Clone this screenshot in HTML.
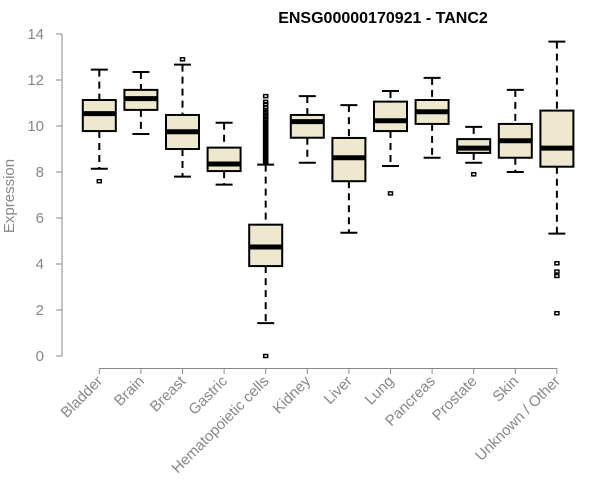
<!DOCTYPE html>
<html><head><meta charset="utf-8"><style>
body{margin:0;background:#fff;}
svg{display:block;font-family:"Liberation Sans",Arial,sans-serif;}
</style></head><body>
<svg id="chart" width="600" height="500" viewBox="0 0 600 500">
<text x="383" y="23" text-anchor="middle" font-weight="bold" font-size="16">ENSG00000170921 - TANC2</text>
<text transform="translate(14,196) rotate(-90)" text-anchor="middle" font-size="15" fill="#888">Expression</text>
<g id="yaxis"></g>
<g id="xaxis"></g>
<g id="boxes"></g>
</svg>
<script>
const categories=["Bladder","Brain","Breast","Gastric","Hematopoietic cells","Kidney","Liver","Lung","Pancreas","Prostate","Skin","Unknown / Other"];
const whiskerLow=[8.14,9.65,7.8,7.45,1.43,8.4,5.36,8.26,8.62,8.4,8.0,5.32];
const q1=[9.78,10.70,9.0,8.04,3.91,9.49,7.6,9.78,10.09,8.83,8.62,8.23];
const medians=[10.54,11.19,9.75,8.35,4.74,10.19,8.62,10.23,10.62,9.04,9.36,9.04];
const q3=[11.13,11.57,10.48,9.06,5.71,10.48,9.48,11.06,11.13,9.43,10.09,10.67];
const whiskerHigh=[12.45,12.35,12.67,10.14,8.32,11.3,10.91,11.52,12.09,9.96,11.57,13.67];
const outliers=[[7.6],[],[12.9],[],[0.0,8.4,8.45,8.5,8.55,8.6,8.65,8.7,8.75,8.8,8.85,8.9,8.95,9.0,9.05,9.1,9.15,9.2,9.25,9.3,9.35,9.4,9.45,9.5,9.55,9.6,9.65,9.7,9.75,9.8,9.85,9.9,9.95,10.0,10.05,10.1,10.15,10.2,10.3,10.4,10.5,10.6,10.7,10.8,10.95,11.05,11.3],[],[],[7.07],[],[7.9],[],[4.03,3.67,3.48,1.86]];
const yTicks=[0,2,4,6,8,10,12,14];
const NS="http://www.w3.org/2000/svg";
const y=v=>356-23*v;
const x=i=>99.3+41.6*i;
function mk(tag,attrs,parent){const e=document.createElementNS(NS,tag);for(const k in attrs)e.setAttribute(k,attrs[k]);parent.appendChild(e);return e;}
const ya=document.getElementById('yaxis'),xa=document.getElementById('xaxis'),bx=document.getElementById('boxes');
mk('line',{x1:62,x2:62,y1:y(14),y2:y(0),stroke:'#888','stroke-width':1},ya);
yTicks.forEach(t=>{
 mk('line',{x1:56,x2:62,y1:y(t),y2:y(t),stroke:'#888'},ya);
 const tx=mk('text',{x:44,y:y(t)+5,'text-anchor':'end','font-size':15,fill:'#888'},ya);
 
 
 tx.textContent=t;
});
mk('line',{x1:x(0),x2:x(categories.length-1),y1:368.5,y2:368.5,stroke:'#888'},xa);
categories.forEach((c,i)=>{
 const cx=x(i);
 mk('line',{x1:cx,x2:cx,y1:368.5,y2:374,stroke:'#888'},xa);
 const tx=mk('text',{transform:`translate(${cx+4},${382}) rotate(-45)`,'text-anchor':'end','font-size':15,fill:'#888'},xa);
 
 
 tx.textContent=c;
 const g=mk('g',{},bx);
 
 
 mk('line',{x1:cx,x2:cx,y1:y(whiskerHigh[i]),y2:y(q3[i]),stroke:'#000','stroke-width':2,'stroke-dasharray':'7,5'},g);
 mk('line',{x1:cx,x2:cx,y1:y(q1[i]),y2:y(whiskerLow[i]),stroke:'#000','stroke-width':2,'stroke-dasharray':'7,5'},g);
 mk('line',{x1:cx-8.5,x2:cx+8.5,y1:y(whiskerHigh[i]),y2:y(whiskerHigh[i]),stroke:'#000','stroke-width':2},g);
 mk('line',{x1:cx-8.5,x2:cx+8.5,y1:y(whiskerLow[i]),y2:y(whiskerLow[i]),stroke:'#000','stroke-width':2},g);
 mk('rect',{x:cx-16.5,y:y(q3[i]),width:33,height:y(q1[i])-y(q3[i]),fill:'#EEE8CF',stroke:'#000','stroke-width':2},g);
 mk('line',{x1:cx-16.5,x2:cx+16.5,y1:y(medians[i]),y2:y(medians[i]),stroke:'#000','stroke-width':5},g);
 outliers[i].forEach(o=>{
  const p=mk('rect',{x:cx-2,y:y(o)-1.5,width:4,height:3,fill:'none',stroke:'#000','stroke-width':1.5},g);
  
  
 });
});
</script>
</body></html>
